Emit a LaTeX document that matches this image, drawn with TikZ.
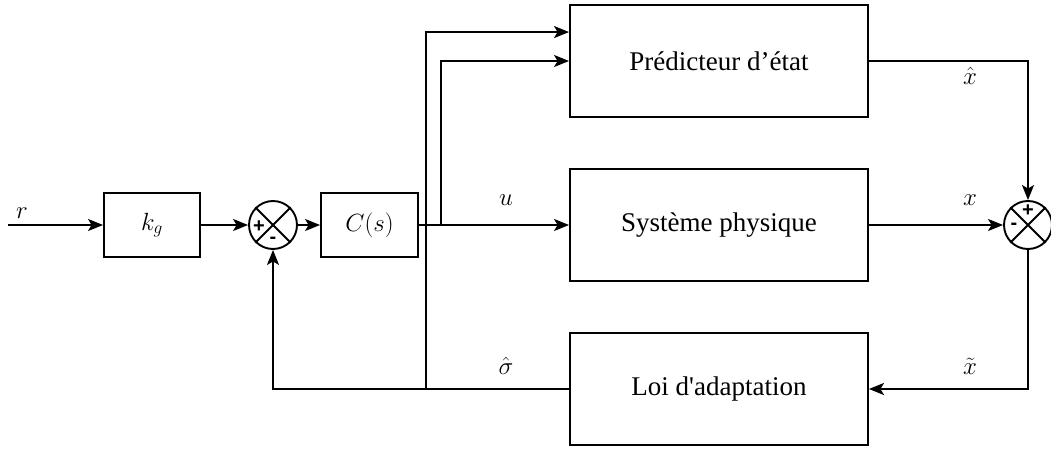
\documentclass[tikz,border=0pt]{standalone}
\usepackage{fontspec}
\setmainfont{Liberation Serif}[Ligatures=TeXOff]
\newfontfamily\signfont{Liberation Sans}
\usetikzlibrary{arrows.meta,calc}
\tikzset{
  blk/.style={draw, line width=1.9pt, minimum width=#1, minimum height=112pt, inner sep=0pt,
    font=\fontsize{27}{32}\selectfont},
  smallblk/.style={draw, line width=1.9pt, minimum width=96pt, minimum height=64pt, inner sep=0pt,
    font=\fontsize{27}{31}\selectfont},
  summer/.style={draw, circle, line width=1.9pt, minimum size=48pt, inner sep=0pt},
  wire/.style={line width=1.9pt},
  arr/.style={wire, -{Stealth[length=15pt,width=12pt,inset=3.5pt]}},
  lbl/.style={font=\fontsize{27}{31}\selectfont, inner sep=0pt},
  sgn/.style={font=\signfont\bfseries\fontsize{20}{22}\selectfont, inner sep=0pt}
}
\begin{document}
\begin{tikzpicture}[x=1pt,y=-1pt]
\useasboundingbox (0,0) rectangle (1051,449);
% blocks
\node[smallblk] (kg) at (152,225) {$k_g$};
\node[summer] (s1) at (273,225) {};
\node[smallblk, minimum width=97pt] (cs) at (369.5,225) {$C(s)$};
\node[blk=298pt] (pred) at (719,61) {Prédicteur d’état};
\node[blk=298pt] (sys) at (719,225) {Système physique};
\node[blk=298pt] (loi) at (719,389) {Loi d'adaptation};
\node[summer] (s2) at (1028,225) {};
% crosses in summers
\draw[wire] (s1.north west) -- (s1.south east) (s1.north east) -- (s1.south west);
\draw[wire] (s2.north west) -- (s2.south east) (s2.north east) -- (s2.south west);
\node[sgn] (p1) at (259,227) {+};
\node[sgn] (m1) at (273,240) {-};
\node[sgn] (p2) at (1028,211) {+};
\node[sgn] (m2) at (1014,226) {-};
% coordinates
\coordinate (in) at (8,225);
\coordinate (bu) at (441,225);
\coordinate (bs) at (426,389);
\coordinate (pin1) at ([yshift=-28pt]pred.north west);
\coordinate (pin2) at (pred.west);
\coordinate (sl) at (273,389);
\coordinate (xh) at (1028,61);
\coordinate (xt) at (1028,389);
% connectors
\draw[arr] (in) -- (kg.west);
\draw[arr] (kg.east) -- (s1.west);
\draw[arr] (s1.east) -- (cs.west);
\draw[arr] (cs.east) -- (sys.west);
\draw[arr] (bu) |- (pin2);
\draw[arr] (loi.west) -- (sl) -- (s1.south);
\draw[arr] (bs) |- (pin1);
\draw[arr] (pred.east) -- (xh) -- (s2.north);
\draw[arr] (sys.east) -- (s2.west);
\draw[arr] (s2.south) -- (xt) -- (loi.east);
% labels
\node[lbl] (lr) at (22,213) {$r$};
\node[lbl] (lu) at (506,200) {$u$};
\node[lbl] (lx) at (970,200) {$x$};
\node[lbl] (lxh) at (970,76) {$\hat{x}$};
\node[lbl] (lxt) at (970,366) {$\tilde{x}$};
\node[lbl] (ls) at (506,366) {$\hat{\sigma}$};
\end{tikzpicture}
\end{document}
